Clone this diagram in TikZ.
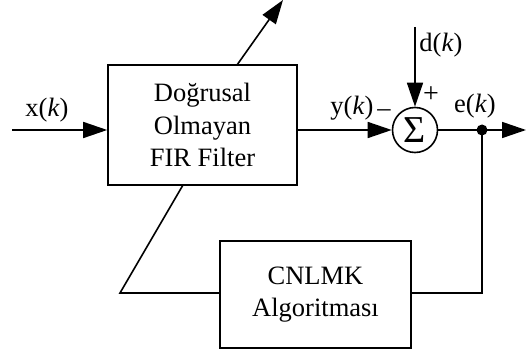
\documentclass[tikz,border=0pt]{standalone}
\usepackage{fontspec}
\setmainfont{Liberation Serif}
\usetikzlibrary{arrows.meta}
\begin{document}
\begin{tikzpicture}[x=1pt,y=-1pt,
  every node/.style={font=\fontsize{26.5}{32.5}\selectfont, inner sep=0pt},
  blk/.style={draw, line width=1.6pt, fill=white},
  wire/.style={line width=1.6pt},
  arr/.style={wire, -{Triangle[length=24pt,width=16pt]}},
  lbl/.style={anchor=center}]
\useasboundingbox (0,0) rectangle (526,352);
% blocks
\node[blk, minimum width=189pt, minimum height=120pt, align=center] (fir) at (202.5,125) {Doğrusal\\Olmayan\\FIR Filter};
\node[blk, minimum width=191pt, minimum height=107pt, align=center] (alg) at (315.5,294.5) {CNLMK\\Algoritması};
\node[draw, circle, line width=1.6pt, minimum size=45pt, font=\fontsize{38}{38}\selectfont] (sum) at (415,130) {Σ};
% coordinates
\coordinate (xin) at (12,130);
\coordinate (dtop) at (415,27);
\coordinate (eout) at (526,130);
\coordinate (dot) at (482,130);
\coordinate (fbc) at (482,293);
\coordinate (fbl) at (120,293);
\coordinate (dlo) at (183,185);
\coordinate (dhi) at (237,65);
\coordinate (dtip) at (283,0);
% connectors
\draw[arr] (xin) -- (fir.west |- xin);
\draw[arr] (fir.east |- sum) -- (sum.west);
\draw[arr] (dtop) -- (sum.north);
\draw[arr] (sum.east) -- (eout);
\fill (dot) circle (5.5pt);
\draw[wire] (dot) -- (fbc) -- (alg.east |- fbc);
\draw[wire] (alg.west |- fbl) -- (fbl) -- (dlo);
\draw[arr] (dhi) -- (dtip);
% labels
\node[lbl] (lx) at (47,110) {x(\textit{k})};
\node[lbl] (ly) at (352,108) {y(\textit{k})};
\node[lbl] (lm) at (384,113) {–};
\node[lbl] (ld) at (441,45) {d(\textit{k})};
\node[lbl] (lp) at (431,95) {\fontsize{28}{28}\selectfont +};
\node[lbl] (le) at (475,106) {e(\textit{k})};
\end{tikzpicture}
\end{document}
